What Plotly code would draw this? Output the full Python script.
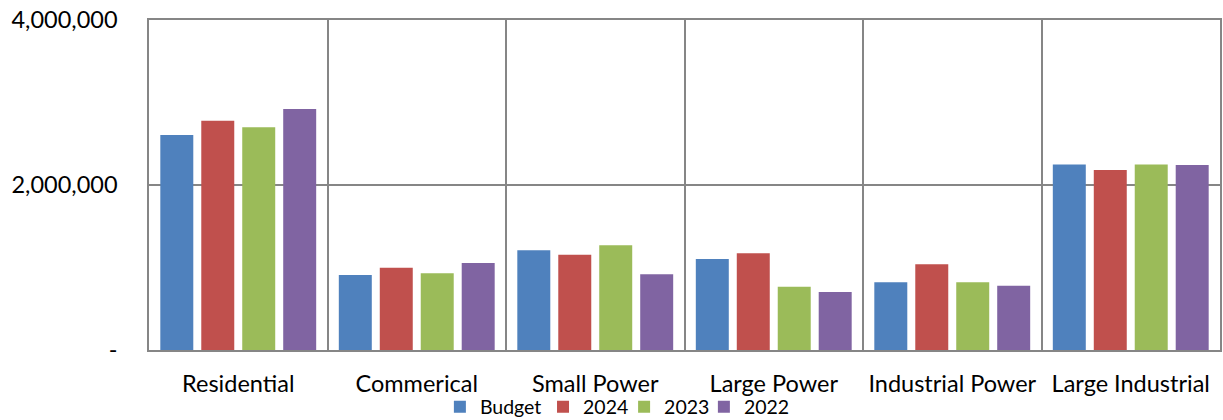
import plotly.graph_objects as go

categories = ["Residential", "Commerical", "Small Power", "Large Power", "Industrial Power", "Large Industrial"]
budget = [2606000, 909000, 1208000, 1103000, 820000, 2250000]
y2024 = [2779000, 998000, 1156000, 1172000, 1038000, 2182000]
y2023 = [2700000, 929000, 1269000, 768000, 820000, 2250000]
y2022 = [2921000, 1055000, 917000, 703000, 780000, 2242000]
series_names = ["Budget", "2024", "2023", "2022"]
colors = ["#4F81BD", "#C0504D", "#9BBB59", "#8064A2"]
tick_vals = [0, 2000000, 4000000]
tick_text = ["-", "2,000,000", "4,000,000"]

FONT = "Lato, Carlito, Calibri, sans-serif"
legend_ids = ["legend", "legend2", "legend3", "legend4"]
legend_x = [0.2716, 0.3679, 0.4436, 0.5181]

fig = go.Figure()
for name, vals, col, lid in zip(series_names, [budget, y2024, y2023, y2022], colors, legend_ids):
    fig.add_trace(go.Bar(x=categories, y=vals, name=name, marker_color=col,
                         marker_line_width=0, legend=lid))

legend_common = dict(orientation="h", xanchor="left", y=-0.173, yanchor="middle",
                     font=dict(size=19.5, family=FONT), itemwidth=30,
                     bgcolor="rgba(0,0,0,0)", borderwidth=0)
fig.update_layout(
    width=1223, height=420,
    margin=dict(l=149, r=3, t=20, b=70, autoexpand=False),
    paper_bgcolor="white", plot_bgcolor="white",
    barmode="group", bargap=0.082, bargroupgap=0.195,
    font=dict(family=FONT, color="black"),
    showlegend=True,
    legend=dict(x=legend_x[0], **legend_common),
    legend2=dict(x=legend_x[1], **legend_common),
    legend3=dict(x=legend_x[2], **legend_common),
    legend4=dict(x=legend_x[3], **legend_common),
)
fig.update_xaxes(
    automargin=False, tickangle=0,
    showline=True, mirror=True, linecolor="#868686", linewidth=1.5,
    showgrid=True, gridcolor="#868686", gridwidth=1.5, tickson="boundaries",
    ticks="", tickfont=dict(size=23.5, family=FONT), ticklabelstandoff=12,
)
fig.update_yaxes(
    automargin=False,
    range=[0, 4000000], tickvals=tick_vals, ticktext=tick_text,
    showline=True, mirror=True, linecolor="#868686", linewidth=1.5,
    showgrid=True, gridcolor="#868686", gridwidth=1.5, zeroline=False,
    ticks="", tickfont=dict(size=23.5, family=FONT), ticklabelstandoff=25,
)
fig.write_html("out.html", config={"displayModeBar": False},
               post_script="document.body.style.margin='0';document.body.style.overflow='hidden';")
